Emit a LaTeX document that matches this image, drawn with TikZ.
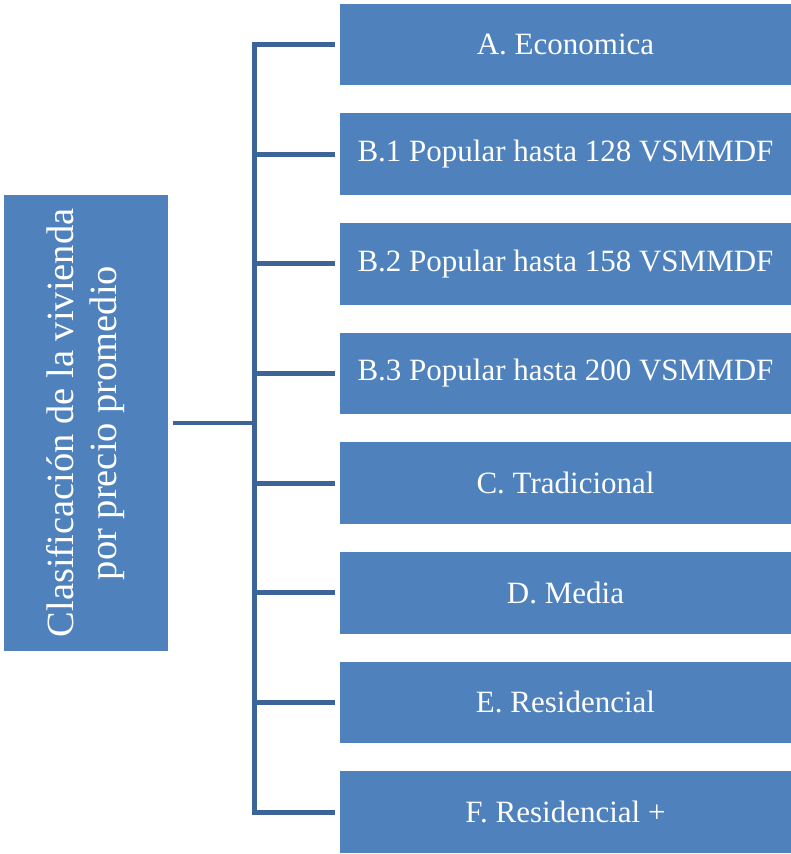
\documentclass[tikz,border=0pt]{standalone}
\usepackage{fontspec}
\setmainfont{Liberation Serif}
\definecolor{boxblue}{HTML}{4F81BD}
\definecolor{lineblue}{HTML}{3C6496}
\tikzset{
  itembox/.style={fill=boxblue, draw=none, text=white, minimum width=451pt, minimum height=81.5pt,
    inner sep=0pt, outer sep=0pt, font=\fontsize{31}{36}\selectfont},
  rootbox/.style={fill=boxblue, draw=none, minimum width=164pt, minimum height=456pt, inner sep=0pt, outer sep=0pt},
  roottext/.style={text=white, rotate=90, align=center, inner sep=0pt, font=\fontsize{38.5}{43}\selectfont},
  conn/.style={draw=lineblue, line width=4.8pt, line join=miter, line cap=butt}
}
\begin{document}
\begin{tikzpicture}[x=1pt,y=-1pt]
\useasboundingbox (0,0) rectangle (791,854);
\node[rootbox] (L) at (86,423) {};
\node[roottext] (Lt) at (L.center) {Clasificación de la vivienda\\por precio promedio};
\node[itembox] (A) at (565.5,44.5) {A. Economica};
\node[itembox] (B1) at (565.5,154.2) {B.1 Popular hasta 128 VSMMDF};
\node[itembox] (B2) at (565.5,263.8) {B.2 Popular hasta 158 VSMMDF};
\node[itembox] (B3) at (565.5,373.5) {B.3 Popular hasta 200 VSMMDF};
\node[itembox] (C) at (565.5,483.1) {C. Tradicional};
\node[itembox] (D) at (565.5,592.8) {D. Media};
\node[itembox] (E) at (565.5,702.4) {E. Residencial};
\node[itembox] (F) at (565.5,812.1) {F. Residencial +};
\coordinate (tA) at (254.5,44.5);
\coordinate (tF) at (254.5,812.1);
\draw[conn, shorten <=5pt, shorten >=5pt] (A.west) -- (tA) -- (tF) -- (F.west);
\foreach \n in {B1,B2,B3,C,D,E} {
  \draw[conn, shorten >=5pt] (\n.west -| tA) -- (\n.west);
}
\draw[conn, shorten <=5pt] (L.east) -- (L.east -| tA);
\end{tikzpicture}
\end{document}
